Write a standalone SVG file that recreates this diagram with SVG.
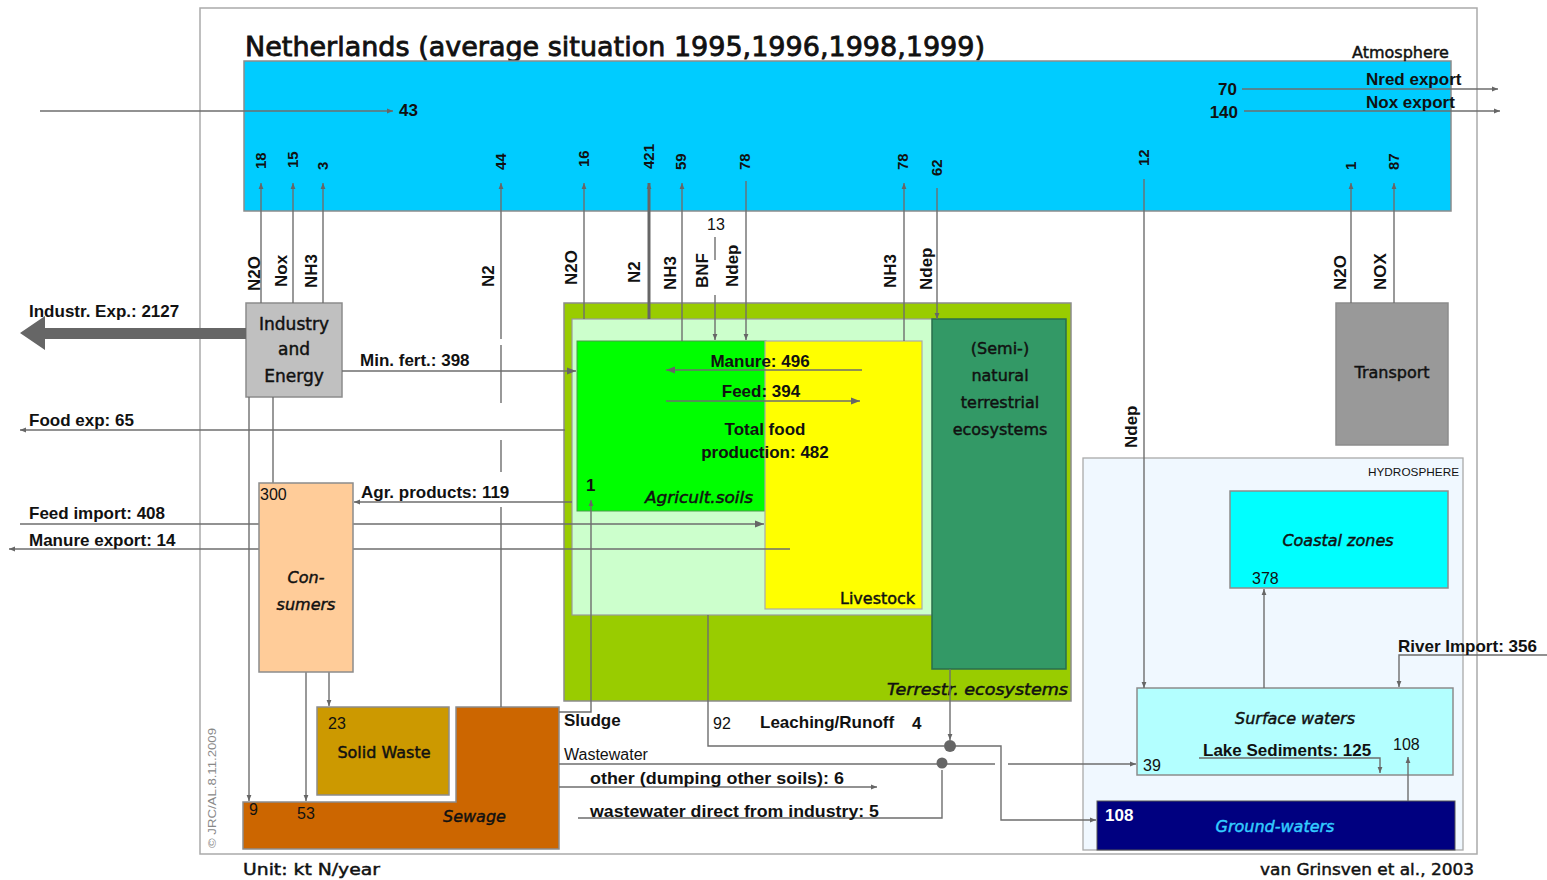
<svg xmlns="http://www.w3.org/2000/svg" width="1547" height="880" viewBox="0 0 1547 880">
<style>
.cm{font-family:"Comic Sans MS","DejaVu Sans",sans-serif;fill:#111;stroke:#111;stroke-width:0.45}
.ar{font-family:"Liberation Sans",Arial,sans-serif;fill:#111}
.b{font-weight:bold;font-size:17px}
.r{font-size:16px}
.vl{font-weight:bold;font-size:17px}
.vn{font-weight:bold;font-size:15px}
.it{font-style:italic}
.ln{fill:none;stroke:#6e6e6e;stroke-width:1.4}
.lt{fill:none;stroke:#666;stroke-width:3}
.box{stroke:#8c8c8c;stroke-width:1.5}
</style>
<defs>
<marker id="ah" viewBox="0 0 10 10" refX="10" refY="5" markerWidth="6" markerHeight="6" markerUnits="userSpaceOnUse" orient="auto"><path d="M0,1 L10,5 L0,9z" fill="#666"/></marker>
<marker id="ahb" viewBox="0 0 10 10" refX="10" refY="5" markerWidth="9" markerHeight="9" markerUnits="userSpaceOnUse" orient="auto"><path d="M0,1 L10,5 L0,9z" fill="#666"/></marker>
</defs>
<rect x="0" y="0" width="1547" height="880" fill="#fff"/>
<rect x="200" y="8" width="1277" height="846" fill="none" stroke="#aaa" stroke-width="1.5"/>
<text class="cm" x="245" y="56" font-size="26" style="stroke-width:0.8" textLength="740" lengthAdjust="spacingAndGlyphs">Netherlands (average situation 1995,1996,1998,1999)</text>

<g id="atmosphere">
<rect class="box" x="244" y="61" width="1207" height="150" fill="#00CCFF"/>
<text class="cm" x="1352" y="58" font-size="16">Atmosphere</text>
</g>
<g id="terrestrial">
<rect class="box" x="564" y="303" width="507" height="398" fill="#99CC00"/>
<rect x="572" y="319" width="361" height="296" fill="#CCFFCC" stroke="#999" stroke-width="1.2"/>
<text class="cm it" x="887" y="695" font-size="15" textLength="181" lengthAdjust="spacingAndGlyphs">Terrestr. ecosystems</text>
</g>
<g id="agric-soils">
<rect x="577" y="341" width="189" height="170" fill="#00FF00" stroke="#4a9a4a" stroke-width="1"/>
<text class="cm it" x="645" y="503" font-size="15" textLength="108" lengthAdjust="spacingAndGlyphs">Agricult.soils</text>
</g>
<g id="livestock">
<rect x="765" y="341" width="157" height="268" fill="#FFFF00" stroke="#aaa" stroke-width="1.2"/>
<text class="cm" x="840" y="604" font-size="16">Livestock</text>
</g>
<g id="semi-natural">
<rect x="932" y="319" width="134" height="350" fill="#339966" stroke="#2a6e4c" stroke-width="1.5"/>
<text class="cm" text-anchor="middle" font-size="16"><tspan x="1000" y="354">(Semi-)</tspan><tspan x="1000" y="381">natural</tspan><tspan x="1000" y="408">terrestrial</tspan><tspan x="1000" y="435">ecosystems</tspan></text>
</g>
<g id="industry">
<rect class="box" x="246" y="303" width="96" height="94" fill="#C0C0C0"/>
<text class="cm" text-anchor="middle" font-size="17"><tspan x="294" y="330">Industry</tspan><tspan x="294" y="355">and</tspan><tspan x="294" y="382">Energy</tspan></text>
</g>
<g id="transport">
<rect class="box" x="1336" y="303" width="112" height="142" fill="#999999"/>
<text class="cm" x="1392" y="378" text-anchor="middle" font-size="16">Transport</text>
</g>
<g id="solid-waste">
<rect class="box" x="317" y="707" width="132" height="88" fill="#CC9900"/>
<text class="ar r" x="328" y="729">23</text>
<text class="cm" x="384" y="758" text-anchor="middle" font-size="16">Solid Waste</text>
</g>
<g id="sewage">
<path class="box" d="M456,707 H559 V849 H243 V802 H456 Z" fill="#CC6600"/>
<text class="ar r" x="249" y="815">9</text>
<text class="ar r" x="297" y="819">53</text>
<text class="cm it" x="443" y="822" font-size="16">Sewage</text>
</g>
<g id="hydrosphere">
<rect x="1083" y="458" width="380" height="392" fill="#F0F8FF" stroke="#aaa" stroke-width="1.3"/>
<text class="ar" x="1368" y="476" font-size="11" textLength="91" lengthAdjust="spacingAndGlyphs">HYDROSPHERE</text>
</g>
<g id="coastal-zones">
<rect class="box" x="1230" y="491" width="218" height="97" fill="#00FFFF"/>
<text class="cm it" x="1338" y="546" text-anchor="middle" font-size="16">Coastal zones</text>
<text class="ar r" x="1252" y="584">378</text>
</g>
<g id="surface-waters">
<rect class="box" x="1137" y="688" width="316" height="87" fill="#B3FFFF"/>
<text class="cm it" x="1295" y="724" text-anchor="middle" font-size="16">Surface waters</text>
<text class="ar b" x="1203" y="756">Lake Sediments: 125</text>
<text class="ar r" x="1393" y="750">108</text>
<text class="ar r" x="1143" y="771">39</text>
</g>
<g id="ground-waters">
<rect x="1097" y="801" width="358" height="49" fill="#000080" stroke="#555" stroke-width="1"/>
<text class="ar b" x="1105" y="821" style="fill:#fff">108</text>
<text class="cm it" x="1275" y="832" text-anchor="middle" font-size="16" style="fill:#33CCFF;stroke:#33CCFF">Ground-waters</text>
</g>

<g id="connectors">
<path class="ln" d="M40,111 H393" marker-end="url(#ah)"/>
<path class="ln" d="M1242,89 H1498" marker-end="url(#ah)"/>
<path class="ln" d="M1244,111 H1500" marker-end="url(#ah)"/>
<path class="ln" d="M261,303 V183" marker-end="url(#ah)"/>
<path class="ln" d="M293,303 V183" marker-end="url(#ah)"/>
<path class="ln" d="M323,303 V183" marker-end="url(#ah)"/>
<path class="ln" d="M501,707 V507 M501,472 V440 M501,403 V345 M501,339 V183" marker-end="url(#ah)"/>
<path class="ln" d="M584,319 V183" marker-end="url(#ah)"/>
<path class="lt" d="M649,319 V183" marker-end="url(#ah)"/>
<path class="ln" d="M682,341 V183" marker-end="url(#ah)"/>
<path class="ln" d="M715,237 V260"/>
<path class="ln" d="M715,295 V340" marker-end="url(#ah)"/>
<path class="ln" d="M746,181 V340" marker-end="url(#ah)"/>
<path class="ln" d="M904,341 V183" marker-end="url(#ah)"/>
<path class="ln" d="M937,188 V319" marker-end="url(#ah)"/>
<path class="ln" d="M1144,179 V688" marker-end="url(#ah)"/>
<path class="ln" d="M1351,303 V183" marker-end="url(#ah)"/>
<path class="ln" d="M1394,303 V183" marker-end="url(#ah)"/>
<path d="M246,328 H45 V316 L20,333 L45,350 V339 H246 Z" fill="#666"/>
<path class="ln" d="M342,371 H576" stroke-width="2.6" marker-end="url(#ahb)"/>
<path class="ln" d="M565,430 H20" marker-end="url(#ah)"/>
<path class="ln" d="M249,397 V801" marker-end="url(#ah)"/>
<path class="ln" d="M273,397 V483" stroke-width="2.2"/>
<path class="ln" d="M572,502 H354" marker-end="url(#ah)"/>
<path class="ln" d="M20,524 H764" stroke-width="3" marker-end="url(#ahb)"/>
<path class="ln" d="M790,549 H9" marker-end="url(#ah)"/>
<path class="ln" d="M862,370 H666" stroke-width="4" marker-end="url(#ahb)"/>
<path class="ln" d="M666,401 H860" stroke-width="2.4" marker-end="url(#ahb)"/>
<path class="ln" d="M306,672 V801" marker-end="url(#ah)"/>
<path class="ln" d="M329,672 V706" marker-end="url(#ah)"/>
<path class="ln" d="M559,712 H591 V500" marker-end="url(#ah)"/>
<path class="ln" d="M559,764 H995"/>
<path class="ln" d="M1008,764 H1136" marker-end="url(#ah)"/>
<path class="ln" d="M559,787 H877" marker-end="url(#ah)"/>
<path class="ln" d="M578,818 H942 V770"/>
<path class="ln" d="M708,615 V746 H944"/>
<path class="ln" d="M950,669 V740" marker-end="url(#ah)"/>
<path class="ln" d="M950,746 H1001 V820 H1096" marker-end="url(#ah)"/>
<circle cx="950" cy="746" r="6" fill="#666"/>
<circle cx="942" cy="763" r="5.5" fill="#666"/>
<path class="ln" d="M1264,688 V589" stroke-width="2" marker-end="url(#ah)"/>
<path class="ln" d="M1547,655 H1399 V687" stroke-width="2.2" marker-end="url(#ah)"/>
<path class="ln" d="M1199,758 H1380 V773" marker-end="url(#ah)"/>
<path class="ln" d="M1408,801 V757" marker-end="url(#ah)"/>
</g>

<g id="consumers">
<rect class="box" x="259" y="483" width="94" height="189" fill="#FFCC99"/>
<text class="ar r" x="260" y="500">300</text>
<text class="cm it" text-anchor="middle" font-size="16"><tspan x="306" y="583">Con-</tspan><tspan x="306" y="610">sumers</tspan></text>
</g>

<g id="labels">
<text class="ar b" x="399" y="116" font-size="16">43</text>
<text class="ar b" x="1237" y="95" text-anchor="end">70</text>
<text class="ar b" x="1238" y="118" text-anchor="end">140</text>
<text class="ar b" x="1366" y="85">Nred export</text>
<text class="ar b" x="1366" y="108">Nox export</text>
<text class="ar vn" transform="translate(266,169) rotate(-90)">18</text>
<text class="ar vn" transform="translate(298,168) rotate(-90)">15</text>
<text class="ar vn" transform="translate(328,170) rotate(-90)">3</text>
<text class="ar vn" transform="translate(506,170) rotate(-90)">44</text>
<text class="ar vn" transform="translate(589,167) rotate(-90)">16</text>
<text class="ar vn" transform="translate(654,169) rotate(-90)">421</text>
<text class="ar vn" transform="translate(686,170) rotate(-90)">59</text>
<text class="ar vn" transform="translate(750,170) rotate(-90)">78</text>
<text class="ar vn" transform="translate(908,170) rotate(-90)">78</text>
<text class="ar vn" transform="translate(942,176) rotate(-90)">62</text>
<text class="ar vn" transform="translate(1149,166) rotate(-90)">12</text>
<text class="ar vn" transform="translate(1356,170) rotate(-90)">1</text>
<text class="ar vn" transform="translate(1399,170) rotate(-90)">87</text>
<text class="ar vl" transform="translate(260,291) rotate(-90)">N2O</text>
<text class="ar vl" transform="translate(287,287) rotate(-90)">Nox</text>
<text class="ar vl" transform="translate(317,288) rotate(-90)">NH3</text>
<text class="ar vl" transform="translate(494,287) rotate(-90)">N2</text>
<text class="ar vl" transform="translate(577,285) rotate(-90)">N2O</text>
<text class="ar vl" transform="translate(640,283) rotate(-90)">N2</text>
<text class="ar vl" transform="translate(676,290) rotate(-90)">NH3</text>
<text class="ar vl" transform="translate(708,288) rotate(-90)">BNF</text>
<text class="ar vl" transform="translate(738,287) rotate(-90)">Ndep</text>
<text class="ar vl" transform="translate(896,288) rotate(-90)">NH3</text>
<text class="ar vl" transform="translate(932,290) rotate(-90)">Ndep</text>
<text class="ar vl" transform="translate(1137,448) rotate(-90)">Ndep</text>
<text class="ar vl" transform="translate(1346,290) rotate(-90)">N2O</text>
<text class="ar vl" transform="translate(1386,290) rotate(-90)">NOX</text>
<text class="ar r" x="707" y="230">13</text>
<text class="ar b" x="29" y="317">Industr. Exp.: 2127</text>
<text class="ar b" x="360" y="366">Min. fert.: 398</text>
<text class="ar b" x="29" y="426">Food exp: 65</text>
<text class="ar b" x="361" y="498">Agr. products: 119</text>
<text class="ar b" x="29" y="519">Feed import: 408</text>
<text class="ar b" x="29" y="546">Manure export: 14</text>
<text class="ar b" x="760" y="367" text-anchor="middle">Manure: 496</text>
<text class="ar b" x="761" y="397" text-anchor="middle">Feed: 394</text>
<text class="ar b" x="765" y="435" text-anchor="middle">Total food</text>
<text class="ar b" x="765" y="458" text-anchor="middle">production: 482</text>
<text class="ar b" x="586" y="491">1</text>
<text class="ar b" x="564" y="726">Sludge</text>
<text class="ar r" x="564" y="760" font-size="17">Wastewater</text>
<text class="ar r" x="713" y="729">92</text>
<text class="ar b" x="760" y="728">Leaching/Runoff</text>
<text class="ar b" x="912" y="729">4</text>
<text class="ar b" x="590" y="784" textLength="254" lengthAdjust="spacingAndGlyphs">other (dumping other soils): 6</text>
<text class="ar b" x="590" y="817" textLength="289" lengthAdjust="spacingAndGlyphs">wastewater direct from industry: 5</text>
<text class="ar b" x="1398" y="652">River Import: 356</text>
<text class="ar" x="216" y="848" font-size="11" textLength="120" lengthAdjust="spacingAndGlyphs" transform="rotate(-90 216 848)" style="fill:#888">© JRC/AL.8.11.2009</text>
<text class="cm" x="243" y="875" font-size="16" textLength="137" lengthAdjust="spacingAndGlyphs">Unit: kt N/year</text>
<text class="cm" x="1260" y="875" font-size="16" textLength="214" lengthAdjust="spacingAndGlyphs">van Grinsven et al., 2003</text>
</g>
</svg>
